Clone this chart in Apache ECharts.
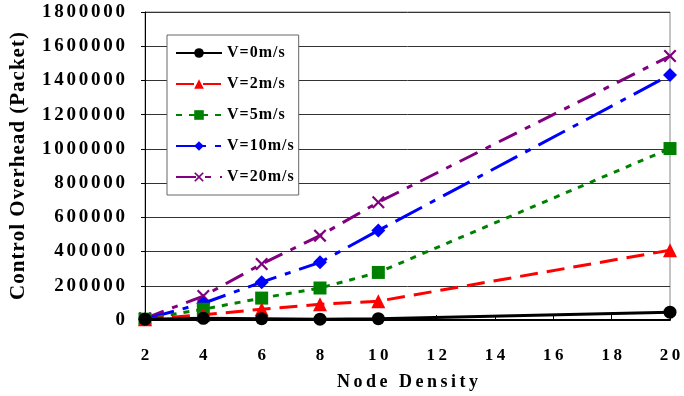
<!DOCTYPE html>
<html><head><meta charset="utf-8">
<script src="https://cdn.jsdelivr.net/npm/echarts@6/dist/echarts.min.js"></script>
<style>html,body{margin:0;padding:0;background:#fff}#c{width:684px;height:396px}</style>
</head><body><div id="c"></div>
<script>
var xValues = [2, 4, 6, 8, 10, 20];
var v0  = [5000, 10000, 8000, 5000, 8000, 46000];
var v2  = [5000, 30000, 63000, 92000, 110000, 408000];
var v5  = [5000, 63000, 128000, 187000, 278000, 1002000];
var v10 = [5000, 98000, 221000, 337000, 523000, 1432000];
var v20 = [10000, 140000, 327000, 493000, 688000, 1543000];
var seriesNames = ['V=0m/s', 'V=2m/s', 'V=5m/s', 'V=10m/s', 'V=20m/s'];
var xTitle = 'Node Density';
var yTitle = 'Control Overhead (Packet)';

var FONT = '"Liberation Serif", "Times New Roman", serif';
function spaced(s){ return String(s).split('').join('{s| }'); }
function pairs(ys){ return xValues.map(function(x,i){ return [x, ys[i]]; }); }

var xPath = 'path://M0,1.2L1.2,0L5,3.8L8.8,0L10,1.2L6.2,5L10,8.8L8.8,10L5,6.2L1.2,10L0,8.8L3.8,5Z';

var defs = [
  {data: v0,  color: '#000000', type: 'solid', symbol: 'circle', size: 13},
  {data: v2,  color: '#ff0000', type: [18, 9], symbol: 'triangle', size: 14},
  {data: v5,  color: '#008000', type: [6, 7], symbol: 'rect', size: 13},
  {data: v10, color: '#0000ff', type: [30, 9, 6, 9], symbol: 'diamond', size: 14},
  {data: v20, color: '#800080', type: [20, 9, 6, 9], symbol: xPath, size: 13}
];

var chart = echarts.init(document.getElementById('c'), null, {renderer: 'canvas'});
chart.setOption({
  animation: false,
  backgroundColor: '#ffffff',
  grid: {left: 144, right: 14, top: 12, bottom: 75, show: true, borderColor: '#888', borderWidth: 1},
  legend: {
    left: 167, top: 35, orient: 'vertical',
    itemWidth: 46, itemHeight: 12, itemGap: 15,
    padding: [10, 5, 10, 8],
    backgroundColor: '#fff', borderColor: '#666', borderWidth: 1,
    textStyle: {fontFamily: FONT, fontWeight: 'bold', fontSize: 16, color: '#000',
      rich: {s: {fontFamily: FONT, fontSize: 4}}},
    formatter: function(n){ return spaced(n); },
    data: seriesNames
  },
  xAxis: {
    type: 'value', min: 2, max: 20, interval: 2,
    name: spaced(xTitle), nameLocation: 'middle', nameGap: 53,
    nameTextStyle: {fontFamily: FONT, fontWeight: 'bold', fontSize: 18, color: '#000',
      rich: {s: {fontFamily: FONT, fontSize: 14}}},
    axisLine: {lineStyle: {color: '#000', width: 2}},
    axisTick: {inside: true, length: 5, lineStyle: {color: '#000'}},
    splitLine: {show: false},
    axisLabel: {margin: 27, fontFamily: FONT, fontWeight: 'bold', fontSize: 17, color: '#000',
      rich: {s: {fontFamily: FONT, fontSize: 14}},
      formatter: function(v){ return spaced(v); }}
  },
  yAxis: {
    type: 'value', min: 0, max: 1800000, interval: 200000,
    name: spaced(yTitle), nameLocation: 'middle', nameGap: 116, nameRotate: 90,
    nameTextStyle: {fontFamily: FONT, fontWeight: 'bold', fontSize: 21, color: '#000',
      rich: {s: {fontFamily: FONT, fontSize: 4}}},
    axisLine: {show: true, lineStyle: {color: '#000', width: 1}},
    axisTick: {show: true, length: 4, lineStyle: {color: '#000'}},
    splitLine: {lineStyle: {color: '#333', width: 1}},
    axisLabel: {margin: 20, fontFamily: FONT, fontWeight: 'bold', fontSize: 19, color: '#000',
      rich: {s: {fontFamily: FONT, fontSize: 11}},
      formatter: function(v){ return spaced(v); }}
  },
  series: defs.map(function(d, i){
    return {
      name: seriesNames[i], type: 'line', data: pairs(d.data),
      symbol: d.symbol, symbolSize: d.size,
      lineStyle: {color: d.color, width: 3, type: d.type},
      itemStyle: {color: d.color},
      z: 10 - i
    };
  })
});
</script></body></html>
